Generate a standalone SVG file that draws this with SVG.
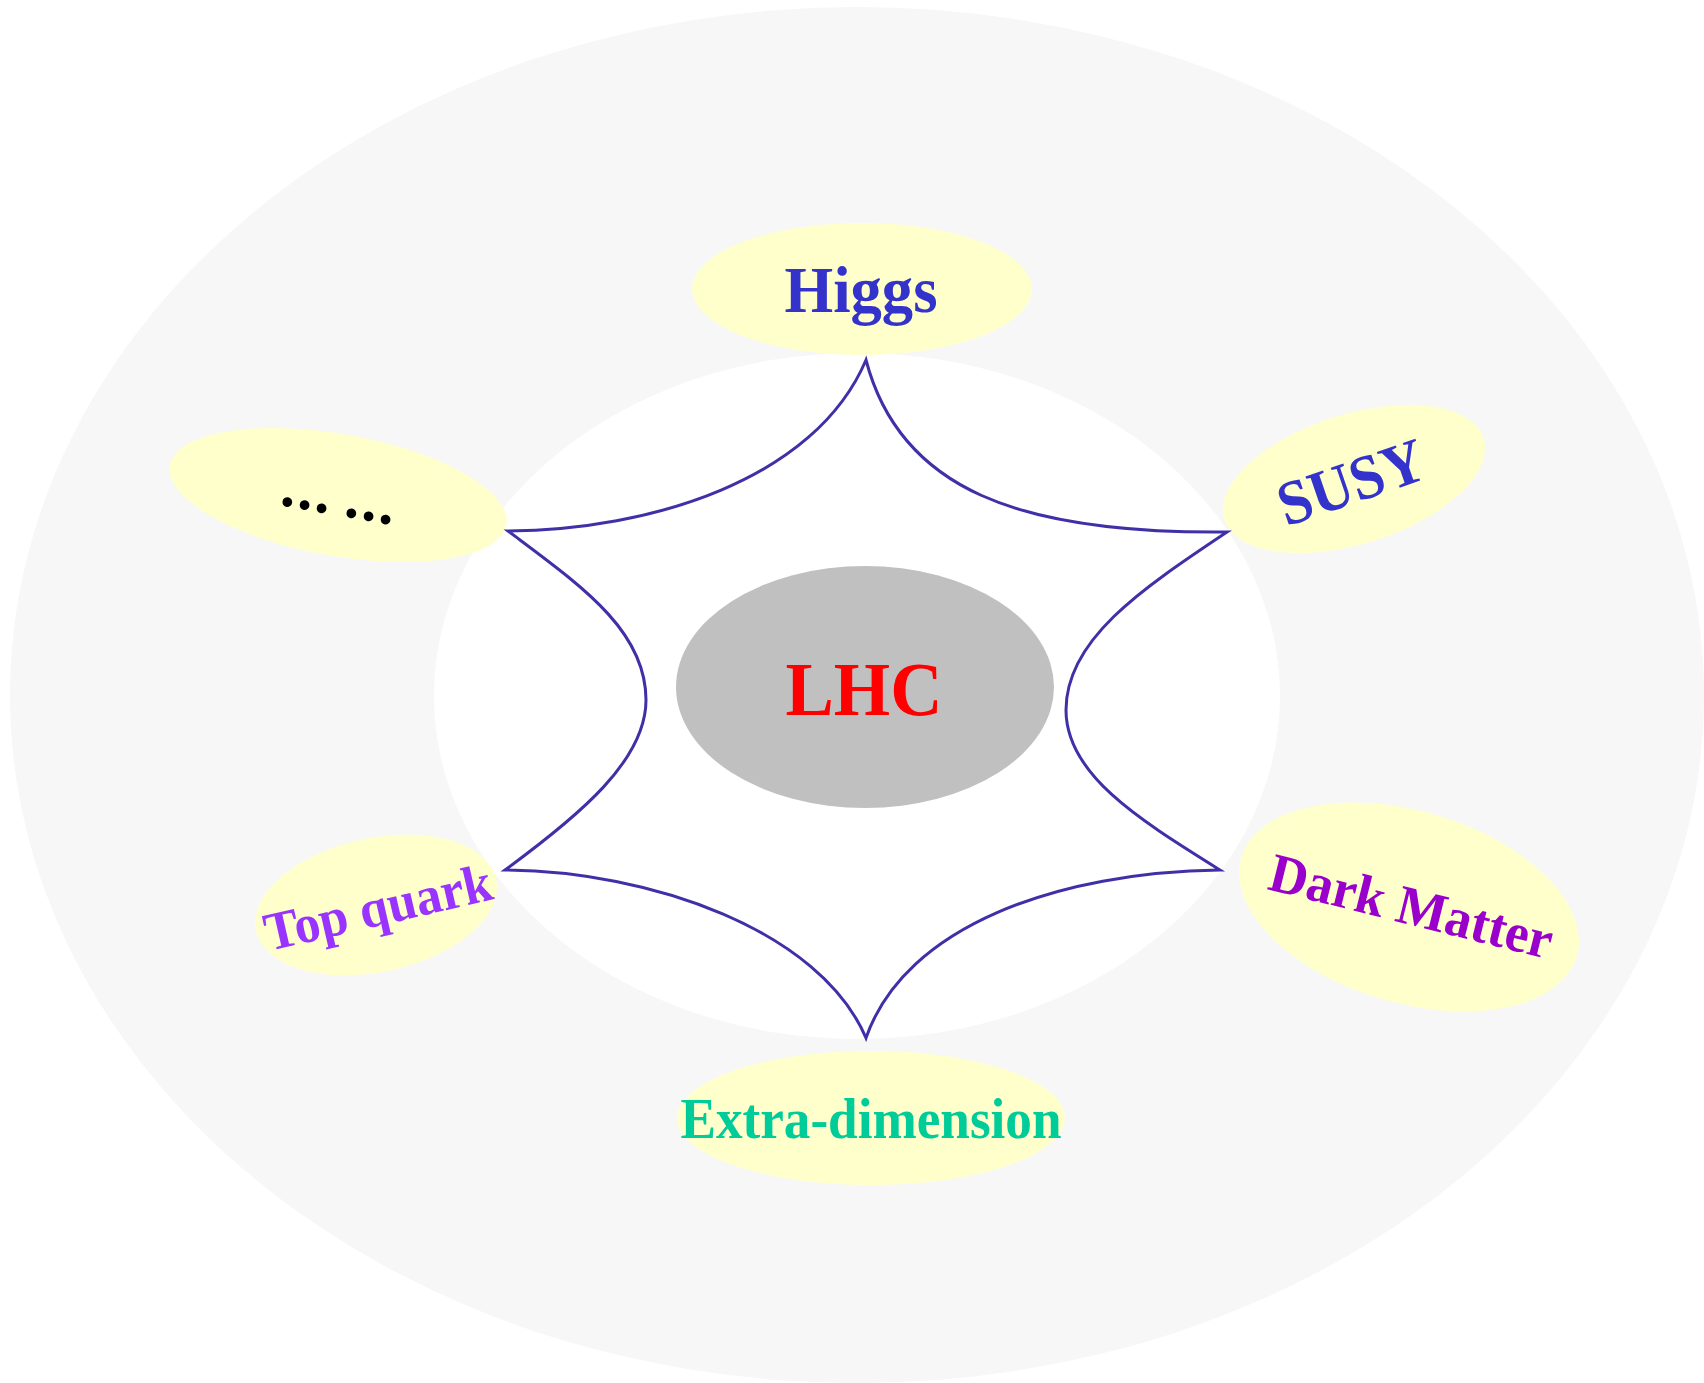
<svg xmlns="http://www.w3.org/2000/svg" width="1704" height="1383" viewBox="0 0 1704 1383">
  <style>
    .lbl { font-family: "Liberation Serif", "Times New Roman", serif; font-weight: bold; text-anchor: middle; }
    .topic { fill: #FFFFCC; }
    .star { fill: none; stroke: #4030A8; stroke-width: 3; stroke-linejoin: miter; }
  </style>
  <rect x="0" y="0" width="1704" height="1383" fill="#FFFFFF"/>
  <g id="background">
    <ellipse cx="857" cy="695" rx="847" ry="688" fill="#F7F7F7"/>
    <ellipse cx="857" cy="696" rx="423" ry="343" fill="#FFFFFF"/>
  </g>
  <g id="node-higgs">
    <ellipse class="topic" cx="862" cy="289" rx="170" ry="66"/>
    <text class="lbl" x="861" y="312" font-size="65" textLength="153" lengthAdjust="spacingAndGlyphs" fill="#3333CC">Higgs</text>
  </g>
  <g id="node-more">
    <ellipse class="topic" cx="338" cy="495" rx="171" ry="61" transform="rotate(10 338 495)"/>
    <text class="lbl" x="337" y="515" font-size="60" letter-spacing="2.5" word-spacing="-5" fill="#000000" transform="rotate(10 337 515)">... ...</text>
  </g>
  <g id="node-susy">
    <ellipse class="topic" cx="1354" cy="479" rx="136" ry="65" transform="rotate(-17.4 1354 479)"/>
    <text class="lbl" x="1358" y="502" font-size="63" textLength="152" lengthAdjust="spacingAndGlyphs" fill="#3333CC" transform="rotate(-19 1358 502)">SUSY</text>
  </g>
  <g id="node-topquark">
    <ellipse class="topic" cx="376" cy="905" rx="123" ry="67" transform="rotate(-12 376 905)"/>
    <text class="lbl" x="382" y="925" font-size="54" textLength="232" lengthAdjust="spacingAndGlyphs" fill="#9933FF" transform="rotate(-13 382 925)">Top quark</text>
  </g>
  <g id="node-darkmatter">
    <ellipse class="topic" cx="1409" cy="907" rx="175" ry="96" transform="rotate(16.4 1409 907)"/>
    <text class="lbl" x="1407" y="924" font-size="55" textLength="290" lengthAdjust="spacingAndGlyphs" fill="#9900CC" transform="rotate(14 1407 924)">Dark Matter</text>
  </g>
  <g id="node-extradim">
    <ellipse class="topic" cx="871" cy="1118" rx="194" ry="67"/>
    <text class="lbl" x="871" y="1138" font-size="56" textLength="381" lengthAdjust="spacingAndGlyphs" fill="#00CC99">Extra-dimension</text>
  </g>
  <g id="node-lhc">
    <ellipse cx="865" cy="687" rx="189" ry="121" fill="#C0C0C0"/>
    <text class="lbl" x="864" y="715" font-size="76" textLength="157" lengthAdjust="spacingAndGlyphs" fill="#FF0000">LHC</text>
  </g>
  <g id="connectors">
    <path class="star" d="M866 360 C900 490 1020 534 1227 532 C1140 590 1066 640 1066 710 C1066 775 1140 820 1220 870 C1060 872 905 925 866 1038 C820 930 650 871 505 870 C580 815 646 760 646 700 C646 630 580 585 508 531 C650 530 815 480 866 360 Z"/>
  </g>
</svg>
